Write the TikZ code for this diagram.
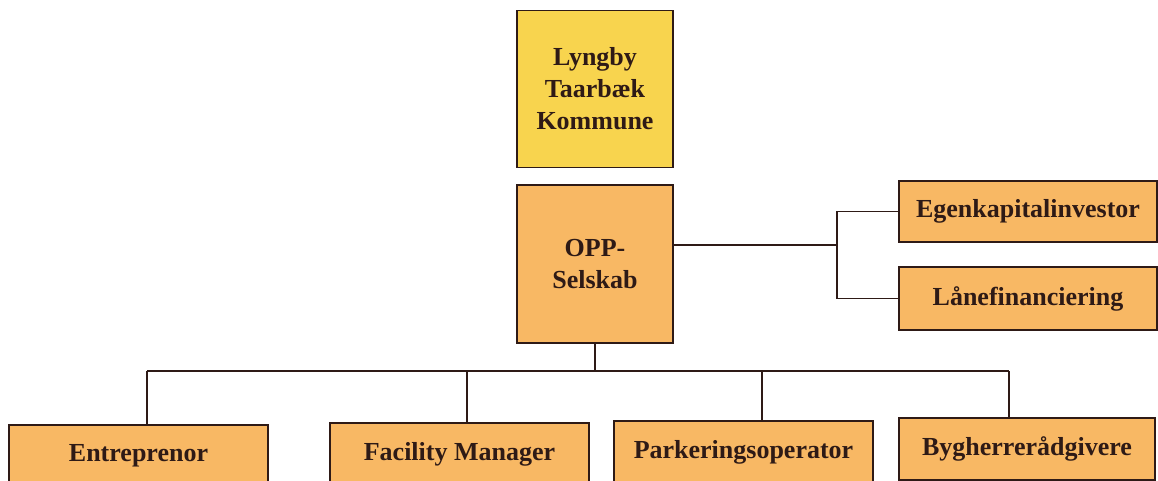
\documentclass[tikz,border=0pt]{standalone}
\usepackage{fontspec}
\setmainfont{Liberation Serif}
\usetikzlibrary{calc}
\definecolor{boxyellow}{HTML}{F8D44E}
\definecolor{boxorange}{HTML}{F8B864}
\definecolor{inkcol}{HTML}{2E1A16}
\tikzset{
  orgbox/.style={draw=inkcol, line width=1.3pt, fill=boxorange, text=inkcol,
    font=\bfseries\fontsize{26}{32}\selectfont, align=center, inner sep=0pt},
  link/.style={draw=inkcol, line width=1.3pt}
}
\begin{document}
\begin{tikzpicture}[x=1pt,y=-1pt]
\useasboundingbox (0,0) rectangle (1158,481);
\clip (0,0) rectangle (1158,481);
\fill[white] (0,0) rectangle (1158,481);
% top boxes
\node[orgbox, fill=boxyellow, minimum width=156pt, minimum height=157pt] (kom) at (595,89) {Lyngby\\Taarbæk\\Kommune};
\node[orgbox, minimum width=156pt, minimum height=158pt] (opp) at (595,264) {OPP-\\Selskab};
% right boxes
\node[orgbox, minimum width=258pt, minimum height=61pt] (egen) at (1028,211.5) {Egenkapitalinvestor};
\node[orgbox, minimum width=258pt, minimum height=63pt] (laan) at (1028,298.5) {Lånefinanciering};
% bottom boxes
\node[orgbox, minimum width=259pt, minimum height=62pt] (ent) at (138.5,456) {Entreprenor};
\node[orgbox, minimum width=259pt, minimum height=62pt] (fm) at (459.5,454) {Facility Manager};
\node[orgbox, minimum width=259pt, minimum height=62pt] (park) at (743.5,452) {Parkeringsoperator};
\node[orgbox, minimum width=256pt, minimum height=62pt] (byg) at (1027,449) {Bygherrerådgivere};
% right connectors
\coordinate (rj) at (837,245);
\draw[link] ([yshift=19pt]opp.east) -- (rj);
\draw[link] (egen.west) -| (rj) |- (laan.west);
% bottom connectors
\coordinate (bus) at (595,371);
\coordinate (d1) at (147,371);
\coordinate (d2) at (467,371);
\coordinate (d3) at (762,371);
\coordinate (d4) at (1009,371);
\draw[link] (opp.south) -- (bus);
\draw[link] (d1) -- (d4);
\draw[link] (d1) -- (d1 |- ent.north);
\draw[link] (d2) -- (d2 |- fm.north);
\draw[link] (d3) -- (d3 |- park.north);
\draw[link] (d4) -- (d4 |- byg.north);
\end{tikzpicture}
\end{document}
